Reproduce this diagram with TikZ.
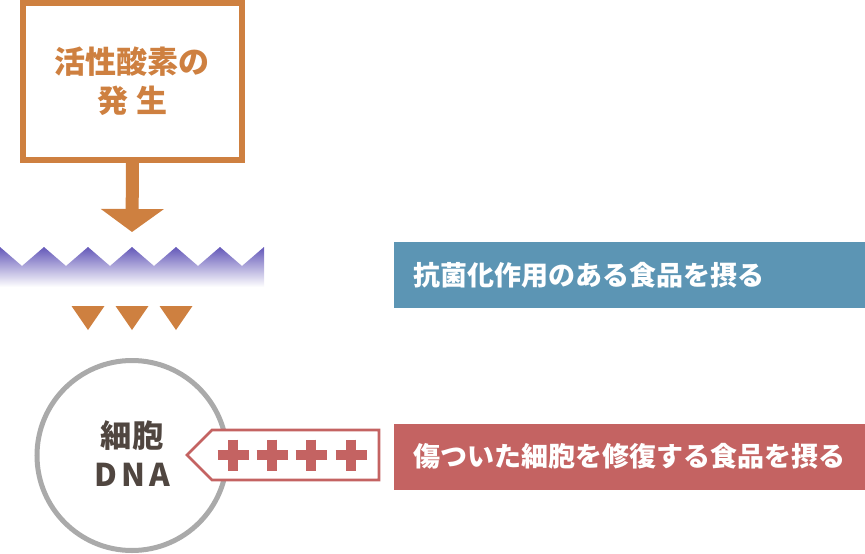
\documentclass[tikz,border=0pt]{standalone}
\usepackage{fontspec}
\setmainfont{Noto Sans CJK JP}
\usepackage{tikz}
\usetikzlibrary{arrows.meta, positioning, calc}

\definecolor{oxorange}{RGB}{206,128,64}
\definecolor{barblue}{RGB}{92,149,180}
\definecolor{barred}{RGB}{196,99,98}
\definecolor{cellgray}{RGB}{170,170,170}
\definecolor{dnatext}{RGB}{80,70,64}
\definecolor{wavepurple}{RGB}{100,88,185}

\tikzset{
    foodbar/.style={anchor=west, text=white, font=\bfseries\fontsize{20.25}{24}\selectfont,
        minimum height=49.5pt, text width=324.75pt, inner xsep=14.25pt, align=left},
    plus/.style={barred, line width=7.5pt},
}

\begin{document}
\begin{tikzpicture}[x=0.75pt, y=-0.75pt]
    \useasboundingbox (0,0) rectangle (865,554);

    \node[draw=oxorange, line width=4.5pt, minimum width=164.25pt, minimum height=117.75pt,
        text=oxorange, align=center, font=\bfseries\fontsize{23.25}{29}\selectfont]
        (src) at (132.5,81.5) {\raisebox{-4pt}{活性酸素の}\\\raisebox{-4pt}{発 生}};

    % band with zigzag top
    \shade[top color=wavepurple, bottom color=white]
        (0,247) \foreach \k in {0,...,5} { -- ({44*\k+22},266) -- ({44*\k+44},247) }
        -- (264,287) -- (0,287) -- cycle;

    \coordinate (bandtop) at (132,232);
    \draw[oxorange, line width=9.75pt, -{Triangle[length=17.25pt, width=46.5pt]}]
        (src.south) -- (bandtop);

    \foreach \x in {88,132,176}
        \fill[oxorange] (\x-16.5,306) -- (\x+16.5,306) -- (\x,330) -- cycle;

    \node[circle, draw=cellgray, line width=3.75pt, minimum size=142.5pt, text=dnatext,
        align=center, font=\bfseries\fontsize{23.5}{29}\selectfont]
        (dna) at (132,455.5) {\raisebox{3pt}{細胞}\\\raisebox{3pt}{D\kern3pt N\kern3pt A}};

    % tag pointing at the cell
    \coordinate (tip) at (187,455);
    \draw[barred, line width=2pt, fill=white]
        (tip) -- ++(25,-25) -- ++(167,0) -- ++(0,50) -- ++(-167,0) -- cycle;
    \foreach \x in {233,272,311,351} {
        \draw[plus] (\x-15.5,455) -- (\x+15.5,455);
        \draw[plus] (\x,439.5) -- (\x,470.5);
    }

    \node[foodbar, fill=barblue] (kill) at (394,275) {抗菌化作用のある食品を摂る};
    \node[foodbar, fill=barred] (repair) at (394,456.5) {傷ついた細胞を修復する食品を摂る};
\end{tikzpicture}
\end{document}
